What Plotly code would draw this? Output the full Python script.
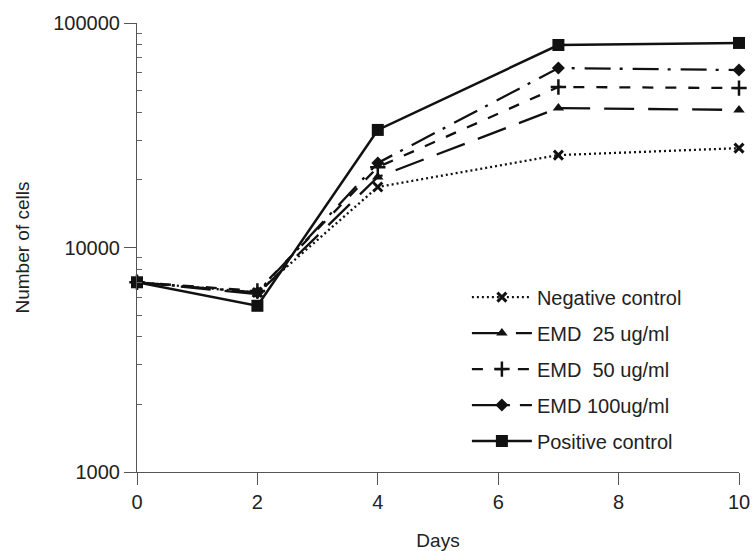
import plotly.graph_objects as go

days = [0, 2, 4, 7, 10]
negative_control = [7000, 6300, 18600, 25800, 27700]
emd_25 = [7000, 6200, 20600, 41800, 41000]
emd_50 = [7000, 6400, 22800, 51900, 51300]
emd_100 = [7000, 6300, 23800, 63000, 61700]
positive_control = [7000, 5500, 33400, 79800, 81500]

series_names = ["Negative control", "EMD  25 ug/ml", "EMD  50 ug/ml", "EMD 100ug/ml", "Positive control"]
series_values = [negative_control, emd_25, emd_50, emd_100, positive_control]

styles = [
    dict(dash="2px,3px", width=2.3, symbol="x-thin", size=9, mlw=3),
    dict(dash="30px,14px", width=2.3, symbol="triangle-up", size=10, mlw=0),
    dict(dash="11px,12px", width=2.3, symbol="cross-thin", size=11, mlw=2.5),
    dict(dash="26px,9px,3px,10px", width=2.3, symbol="diamond", size=10, mlw=0),
    dict(dash="solid", width=2.5, symbol="square", size=12, mlw=0),
]

ink = "#111111"
fig = go.Figure()
for i, (name, vals, st) in enumerate(zip(series_names, series_values, styles)):
    fig.add_trace(go.Scatter(
        x=days, y=vals, name=name, mode="lines+markers",
        legendgroup=f"g{i}", cliponaxis=False,
        line=dict(color=ink, width=st["width"], dash=st["dash"]),
        marker=dict(symbol=st["symbol"], size=st["size"], color=ink,
                    line=dict(color=ink, width=st["mlw"])),
    ))

font_family = "Liberation Sans, Arial, sans-serif"
fig.update_layout(
    width=754, height=551,
    margin=dict(l=137, r=15, t=23, b=79),
    paper_bgcolor="white", plot_bgcolor="white",
    font=dict(family=font_family, size=20, color="#222222"),
    showlegend=True,
    legend=dict(
        x=0.548, y=0.433, xanchor="left", yanchor="top",
        bgcolor="rgba(0,0,0,0)", borderwidth=0,
        font=dict(size=20, color="#222222"),
        traceorder="grouped", tracegroupgap=7,
        itemwidth=60,
    ),
    xaxis=dict(
        range=[0, 10], tickvals=[0, 2, 4, 6, 8, 10],
        showgrid=False, zeroline=False, automargin=False,
        showline=True, linecolor="#555555", linewidth=1,
        ticks="outside", ticklen=12, tickcolor="#555555",
        tickfont=dict(size=20),
        title=dict(text="Days", font=dict(size=19), standoff=22),
    ),
    yaxis=dict(
        type="log", range=[3, 5], automargin=False,
        tickvals=[1000, 10000, 100000], ticktext=["1000", "10000", "100000"],
        showgrid=False, zeroline=False,
        showline=True, linecolor="#555555", linewidth=1,
        ticks="outside", ticklen=12, tickcolor="#555555",
        tickfont=dict(size=20),
        minor=dict(ticks="inside", ticklen=5, tickcolor="#666666", showgrid=False,
                   tickvals=[v * d for d in (1000, 10000) for v in range(2, 10)]),
        title=dict(text="Number of cells", font=dict(size=19), standoff=18),
    ),
)

fig.write_html(
    "out.html",
    config={"displayModeBar": False},
    post_script="document.body.style.margin='0';document.body.style.overflow='hidden';",
)
